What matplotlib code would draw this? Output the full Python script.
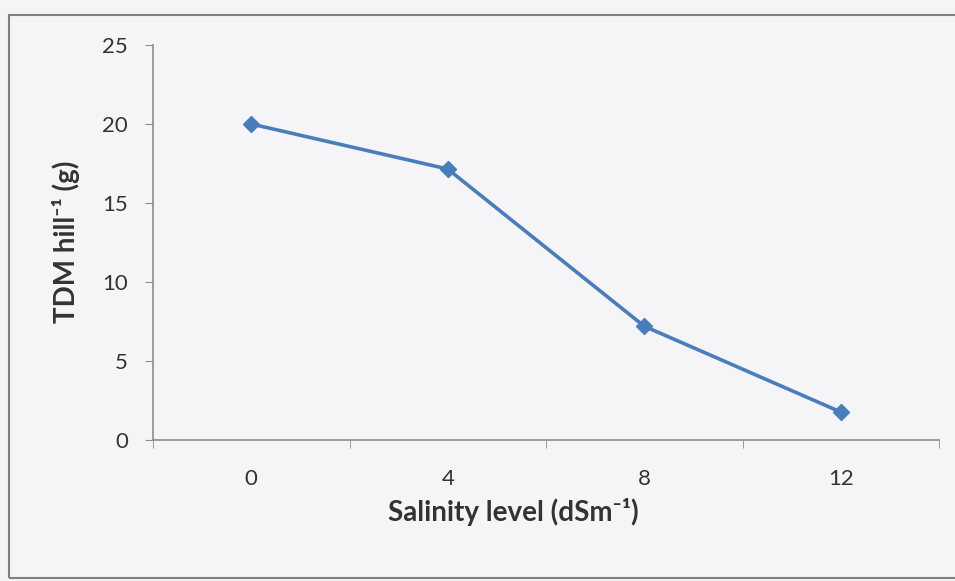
import matplotlib.pyplot as plt
from matplotlib.patches import Rectangle

plt.rcParams['font.family'] = ['Lato', 'DejaVu Sans']

# data
salinity = ['0', '4', '8', '12']
tdm = [20.0, 17.15, 7.2, 1.77]
y_ticks = [0, 5, 10, 15, 20, 25]

fig = plt.figure(figsize=(9.55, 5.81), dpi=100)
fig.patch.set_facecolor('#f5f5f7')
ax = fig.add_axes([153 / 955, 1 - 440 / 581, 786 / 955, 395 / 581])
ax.set_facecolor('none')

# chart border like the Excel chart area
fig.patches.append(Rectangle((9 / 955, 1 - 578 / 581), 1.0, 563 / 581,
                             transform=fig.transFigure, fill=False,
                             edgecolor='#808080', linewidth=1.5))

x = list(range(len(salinity)))
ax.plot(x, tdm, color='#4a7ebb', linewidth=2.6, marker='D', markersize=8,
        markerfacecolor='#4a7ebb', markeredgecolor='#4a7ebb')

ax.set_xlim(-0.5, len(salinity) - 0.5)
ax.set_ylim(0, 25)
ax.set_yticks(y_ticks)
ax.set_xticks(x)
ax.set_xticklabels(salinity)
ax.set_xticks([i - 0.5 for i in range(len(salinity) + 1)], minor=True)

for side in ['top', 'right']:
    ax.spines[side].set_visible(False)
for side in ['left', 'bottom']:
    ax.spines[side].set_color('#8c8c8c')
    ax.spines[side].set_linewidth(1.2)

ax.tick_params(axis='x', which='major', length=0, pad=21, labelsize=16,
               labelcolor='#333333')
ax.tick_params(axis='x', which='minor', length=6, color='#8c8c8c',
               direction='out')
ax.tick_params(axis='y', length=6, color='#8c8c8c', pad=12, labelsize=16,
               labelcolor='#333333')

# axis titles placed where the Excel chart puts them
fig.text(513 / 955, 1 - 512 / 581, 'Salinity level (dSm\u207b\u00b9)',
         fontsize=20, fontweight='bold', color='#333333',
         ha='center', va='center')
fig.text(66 / 955, 1 - 242 / 581, 'TDM hill\u207b\u00b9 (g)',
         fontsize=20, fontweight='bold', color='#333333',
         ha='center', va='center', rotation=90)

fig.savefig('out.png', dpi=100, facecolor=fig.get_facecolor())
